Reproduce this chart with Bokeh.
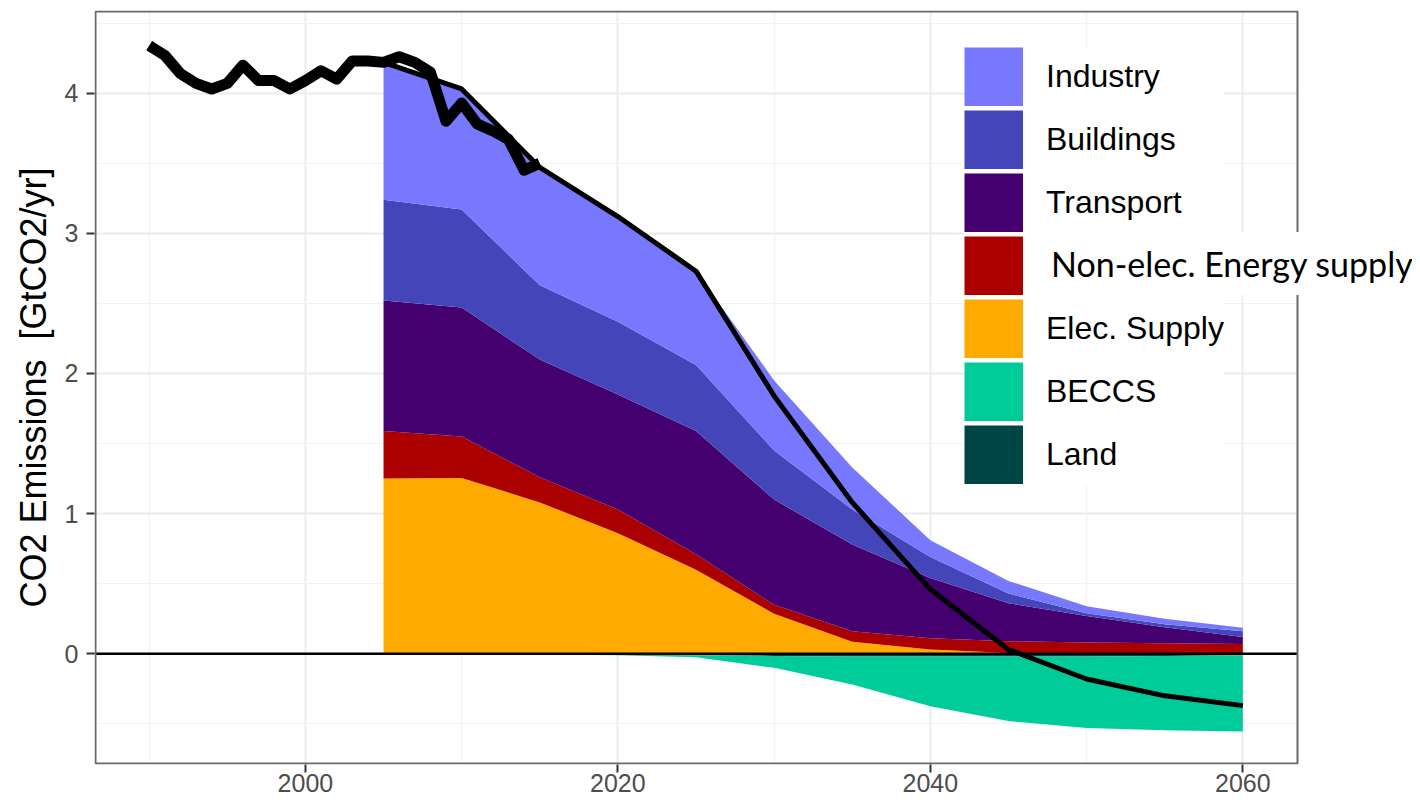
import numpy as np
from bokeh.plotting import figure
from bokeh.models import (ColumnDataSource, FixedTicker, Legend, LegendItem, Span, Range1d,
                          BoxAnnotation)
from bokeh.embed import file_html
from bokeh.resources import INLINE

# ---- data ----
hist_years = list(range(1990, 2016))
hist_vals = [4.34, 4.27, 4.14, 4.07, 4.03, 4.07, 4.20, 4.09, 4.09, 4.03,
             4.09, 4.16, 4.10, 4.23, 4.23, 4.22, 4.26, 4.22, 4.15, 3.80,
             3.93, 3.78, 3.73, 3.67, 3.45, 3.50]

scen_years = [2005, 2010, 2015, 2020, 2025, 2030, 2035, 2040, 2045, 2050, 2055, 2060]
elec      = [1.25, 1.255, 1.08, 0.86, 0.60, 0.285, 0.085, 0.03, 0.005, 0.0, 0.0, 0.0]
nonelec   = [0.34, 0.295, 0.18, 0.17, 0.11, 0.065, 0.075, 0.08, 0.085, 0.08, 0.075, 0.07]
transport = [0.93, 0.92, 0.84, 0.82, 0.88, 0.75, 0.62, 0.43, 0.27, 0.19, 0.115, 0.05]
buildings = [0.72, 0.70, 0.53, 0.52, 0.47, 0.35, 0.25, 0.15, 0.07, 0.02, 0.02, 0.04]
industry  = [0.98, 0.86, 0.84, 0.75, 0.67, 0.50, 0.30, 0.12, 0.09, 0.05, 0.04, 0.025]
land      = [-0.005, -0.005, -0.005, -0.005, -0.01, -0.015, -0.02, -0.02, -0.02, -0.02, -0.015, -0.01]
beccs     = [0.0, 0.0, 0.0, -0.005, -0.015, -0.085, -0.20, -0.355, -0.46, -0.51, -0.53, -0.545]
net_vals  = [4.22, 4.03, 3.47, 3.12, 2.73, 1.84, 1.08, 0.46, 0.03, -0.18, -0.30, -0.37]

x_ticks = [2000, 2020, 2040, 2060]
x_minor = [1990, 2010, 2030, 2050]
y_ticks = [0, 1, 2, 3, 4]
y_minor = [-0.5, 0.5, 1.5, 2.5, 3.5, 4.5]

labels = ["Industry", "Buildings", "Transport", "Non-elec. Energy supply",
          "Elec. Supply", "BECCS", "Land"]
colors = {"industry": "#7878FE", "buildings": "#4545BA", "transport": "#45006F",
          "nonelec": "#AA0000", "elec": "#FFAA00", "beccs": "#00CC99", "land": "#004545"}

# panel limits (ggplot-style 5% expansion) and the extra room on the right for the long label
X0, X1 = 1986.5, 2063.5
Y0, Y1 = -0.79, 4.59
FRAME_W = 1203            # px of the visible panel
RIGHT_PAD = 115           # px right of the panel (legend label overflows into it)
x_end = X1 + RIGHT_PAD * (X1 - X0) / FRAME_W

src = ColumnDataSource(dict(year=scen_years, elec=elec, nonelec=nonelec, transport=transport,
                            buildings=buildings, industry=industry, land=land, beccs=beccs,
                            net=net_vals))
hsrc = ColumnDataSource(dict(year=hist_years, val=hist_vals))
# a single NaN point: draws nothing in the plot, but lets legend swatches be painted
dummy = ColumnDataSource(dict(x=np.array([np.nan]), y=np.array([np.nan])))

p = figure(width=1412, height=802, output_backend="svg", toolbar_location=None,
           x_range=Range1d(X0, x_end), y_range=Range1d(Y0, Y1),
           min_border_left=94, min_border_right=0, min_border_top=10, min_border_bottom=38)

pos_keys = ["elec", "nonelec", "transport", "buildings", "industry"]
pos_r = p.varea_stack(stackers=pos_keys, x="year", color=[colors[k] for k in pos_keys], source=src)
neg_keys = ["land", "beccs"]
neg_r = p.varea_stack(stackers=neg_keys, x="year", color=[colors[k] for k in neg_keys], source=src)

p.line("year", "net", source=src, line_color="black", line_width=5, line_join="round")
p.line("year", "val", source=hsrc, line_color="black", line_width=11, line_join="round")

# legend swatches: line renderers drawn as 59px-thick bars (full square swatches)
order = ["industry", "buildings", "transport", "nonelec", "elec", "beccs", "land"]
swatch = {k: p.line("x", "y", source=dummy, line_color=colors[k], line_width=59,
                    line_cap="butt") for k in order}
ghost = p.line("x", "y", source=dummy, line_alpha=0)

# zero line, white area right of the panel, panel border
p.add_layout(Span(location=0, dimension="width", line_color="black", line_width=2.5))
p.add_layout(BoxAnnotation(left=X1, fill_color="white", fill_alpha=1.0, line_color=None))
p.add_layout(BoxAnnotation(left=X0 + 1.0 / 15.62, right=X1, bottom=Y0 + 1.0 / 140.2,
                           top=Y1 - 1.0 / 140.2, fill_alpha=0, line_color="#6A6A6A",
                           line_alpha=1.0, line_width=2))

items = [LegendItem(label=(" " if k == "nonelec" else lab), renderers=[swatch[k]])
         for k, lab in zip(order, labels)]
legend = Legend(items=items, location=(870, 280), glyph_width=59, glyph_height=59,
                spacing=4, padding=22, margin=0, label_standoff=23,
                label_text_font="Liberation Sans", label_text_font_size="32px",
                label_text_color="black", border_line_color=None,
                background_fill_color="white", background_fill_alpha=1.0)
p.add_layout(legend)

legend2 = Legend(items=[LegendItem(label=labels[3], renderers=[ghost])],
                 location=(936, 469), glyph_width=4, glyph_height=63, padding=0, margin=0,
                 label_standoff=17, label_text_font="Lato", label_text_font_size="34px",
                 label_text_color="black", border_line_color=None,
                 background_fill_color="white", background_fill_alpha=1.0)
p.add_layout(legend2)

# axes / grid
p.xaxis.ticker = FixedTicker(ticks=x_ticks, minor_ticks=x_minor)
p.yaxis.ticker = FixedTicker(ticks=y_ticks, minor_ticks=y_minor)
for ax in (p.xaxis[0], p.yaxis[0]):
    ax.axis_line_color = None
    ax.major_tick_line_color = "#333333"
    ax.major_tick_line_width = 2
    ax.major_tick_in = 0
    ax.major_tick_out = 8
    ax.minor_tick_line_color = None
    ax.major_label_text_color = "#4D4D4D"
    ax.major_label_text_font = "Liberation Sans"
    ax.major_label_text_font_size = "25px"
p.xaxis.major_label_standoff = 1
p.yaxis.major_label_standoff = 8
p.yaxis.axis_label = "CO2 Emissions \u00a0[GtCO2/yr]"
p.yaxis.axis_label_text_font = "Liberation Sans"
p.yaxis.axis_label_text_font_size = "36px"
p.yaxis.axis_label_text_font_style = "normal"
p.yaxis.axis_label_text_color = "black"
p.yaxis.axis_label_standoff = 8

for g in (p.xgrid[0], p.ygrid[0]):
    g.grid_line_color = "#EBEBEB"
    g.grid_line_width = 1.8
    g.minor_grid_line_color = "#F2F2F2"
    g.minor_grid_line_width = 1.2

p.outline_line_color = None
p.background_fill_color = "white"
p.border_fill_color = "white"

open("out.html", "w").write(file_html(p, INLINE))
